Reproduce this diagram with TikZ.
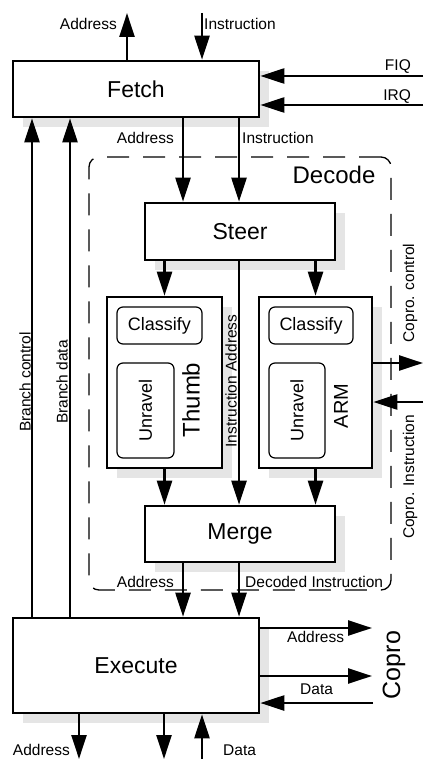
\documentclass[tikz,border=0pt]{standalone}
\usepackage{fontspec}
\setmainfont{Liberation Sans}
\usetikzlibrary{arrows.meta,shadows}
\begin{document}
\begin{tikzpicture}[x=1pt,y=-1pt,
  box/.style={draw, line width=2.6pt, fill=white, inner sep=0pt,
    general shadow={fill=gray!20, shadow xshift=10pt, shadow yshift=-10pt},
    font=\fontsize{23}{26}\selectfont},
  innerbox/.style={draw, rounded corners=6pt, line width=1.2pt, inner sep=0pt,
    font=\fontsize{18}{20}\selectfont},
  lbl/.style={font=\fontsize{15.5}{17}\selectfont, inner sep=0pt},
  big/.style={font=\fontsize{24}{26}\selectfont, inner sep=0pt},
  arr/.style={line width=2.4pt, -{Triangle[length=24pt,width=15pt]}},
  decodebox/.style={draw, line width=1.3pt, dash pattern=on 22pt off 14pt,
    rounded corners=10pt, minimum width=302pt, minimum height=433pt, inner sep=0pt}
]
\useasboundingbox (0,0) rectangle (423,759);

% Decode region
\node[decodebox] (decode) at (240,373.5) {};
\node[big] (decodetxt) at (334,175) {Decode};

% main boxes
\node[box, minimum width=246pt, minimum height=56pt] (fetch) at (136,89) {Fetch};
\node[box, minimum width=190pt, minimum height=57pt] (steer) at (240,231.5) {Steer};
\node[box, minimum width=115pt, minimum height=171pt] (thumb) at (164.5,382.5) {};
\node[box, minimum width=113pt, minimum height=171pt] (arm) at (315.5,382.5) {};
\node[box, minimum width=190pt, minimum height=56pt] (merge) at (240,534) {Merge};
\node[box, minimum width=246pt, minimum height=95pt] (execute) at (136,665.5) {Execute};

% inner boxes
\node[innerbox, minimum width=85pt, minimum height=37pt] (tclass) at (159.5,325.5) {Classify};
\node[innerbox, minimum width=57pt, minimum height=95pt] (tunr) at (145.5,410.5) {\rotatebox{90}{Unravel}};
\node[big, rotate=90] (thumbtxt) at (191,400) {Thumb};
\node[innerbox, minimum width=84pt, minimum height=37pt] (aclass) at (311,325.5) {Classify};
\node[innerbox, minimum width=56pt, minimum height=95pt] (aunr) at (297,410.5) {\rotatebox{90}{Unravel}};
\node[font=\fontsize{20}{22}\selectfont, inner sep=0pt, rotate=90] (armtxt) at (341,406) {ARM};

% coordinates for free ends / columns
\coordinate (memA) at (127,13);
\coordinate (memI) at (202,13);
\coordinate (fiq) at (423,76);
\coordinate (irq) at (423,105);
\coordinate (xa) at (183,0);
\coordinate (xi) at (239,0);
\coordinate (xbc) at (32,0);
\coordinate (xbd) at (70,0);
\coordinate (cc) at (423,363);
\coordinate (ci) at (423,402);
\coordinate (ea) at (372,628);
\coordinate (ed) at (372,676);
\coordinate (edi) at (373,703);
\coordinate (b1) at (79,759);
\coordinate (b2) at (164,759);
\coordinate (b3) at (202,759);

% connectors
\draw[arr] (fetch.north -| memA) -- (memA);
\draw[arr] (memI) -- (fetch.north -| memI);
\draw[arr] (fiq) -- (fiq -| fetch.east);
\draw[arr] (irq) -- (irq -| fetch.east);
\draw[arr] (fetch.south -| xa) -- (steer.north -| xa);
\draw[arr] (fetch.south -| xi) -- (steer.north -| xi);
\draw[arr] (steer.south -| thumb.north) -- (thumb.north);
\draw[arr] (steer.south -| arm.north) -- (arm.north);
\draw[arr] (steer.south -| xi) -- (merge.north -| xi);
\draw[arr] (thumb.south) -- (merge.north -| thumb.south);
\draw[arr] (arm.south) -- (merge.north -| arm.south);
\draw[arr] (merge.south -| xa) -- (execute.north -| xa);
\draw[arr] (merge.south -| xi) -- (execute.north -| xi);
\draw[arr] (execute.north -| xbc) -- (fetch.south -| xbc);
\draw[arr] (execute.north -| xbd) -- (fetch.south -| xbd);
\draw[arr] (cc -| arm.east) -- (cc);
\draw[arr] (ci) -- (ci -| arm.east);
\draw[arr] (ea -| execute.east) -- (ea);
\draw[arr] (ed -| execute.east) -- (ed);
\draw[arr] (edi) -- (edi -| execute.east);
\draw[arr] (execute.south -| b1) -- (b1);
\draw[arr] (execute.south -| b2) -- (b2);
\draw[arr] (b3) -- (execute.south -| b3);

% labels
\node[lbl, anchor=east] (lA1) at (117,24) {Address};
\node[lbl, anchor=west] (lI1) at (204,24) {Instruction};
\node[lbl, anchor=east] (lfiq) at (411,67) {FIQ};
\node[lbl, anchor=east] (lirq) at (411,97) {IRQ};
\node[lbl, anchor=east] (lA2) at (174,138) {Address};
\node[lbl, anchor=west] (lI2) at (242,138) {Instruction};
\node[lbl, rotate=90] (lbc) at (25,382) {Branch control};
\node[lbl, rotate=90] (lbd) at (62,382) {Branch data};
\node[lbl, rotate=90] (lia) at (231,381) {Instruction Address};
\node[lbl, rotate=90] (lcc) at (410,293) {Copro. control};
\node[lbl, rotate=90] (lci) at (410,477) {Copro. Instruction};
\node[lbl, anchor=east] (lA3) at (174,582) {Address};
\node[lbl, anchor=west] (ldi) at (245,582) {Decoded Instruction};
\node[lbl, anchor=west] (lA4) at (287,637) {Address};
\node[lbl, anchor=west] (ldat) at (300,689) {Data};
\node[font=\fontsize{25}{27}\selectfont, inner sep=0pt, rotate=90] (copro) at (394,665) {Copro};
\node[lbl, anchor=east] (lA5) at (70,750) {Address};
\node[lbl, anchor=west] (ld2) at (223,750) {Data};
\end{tikzpicture}
\end{document}
